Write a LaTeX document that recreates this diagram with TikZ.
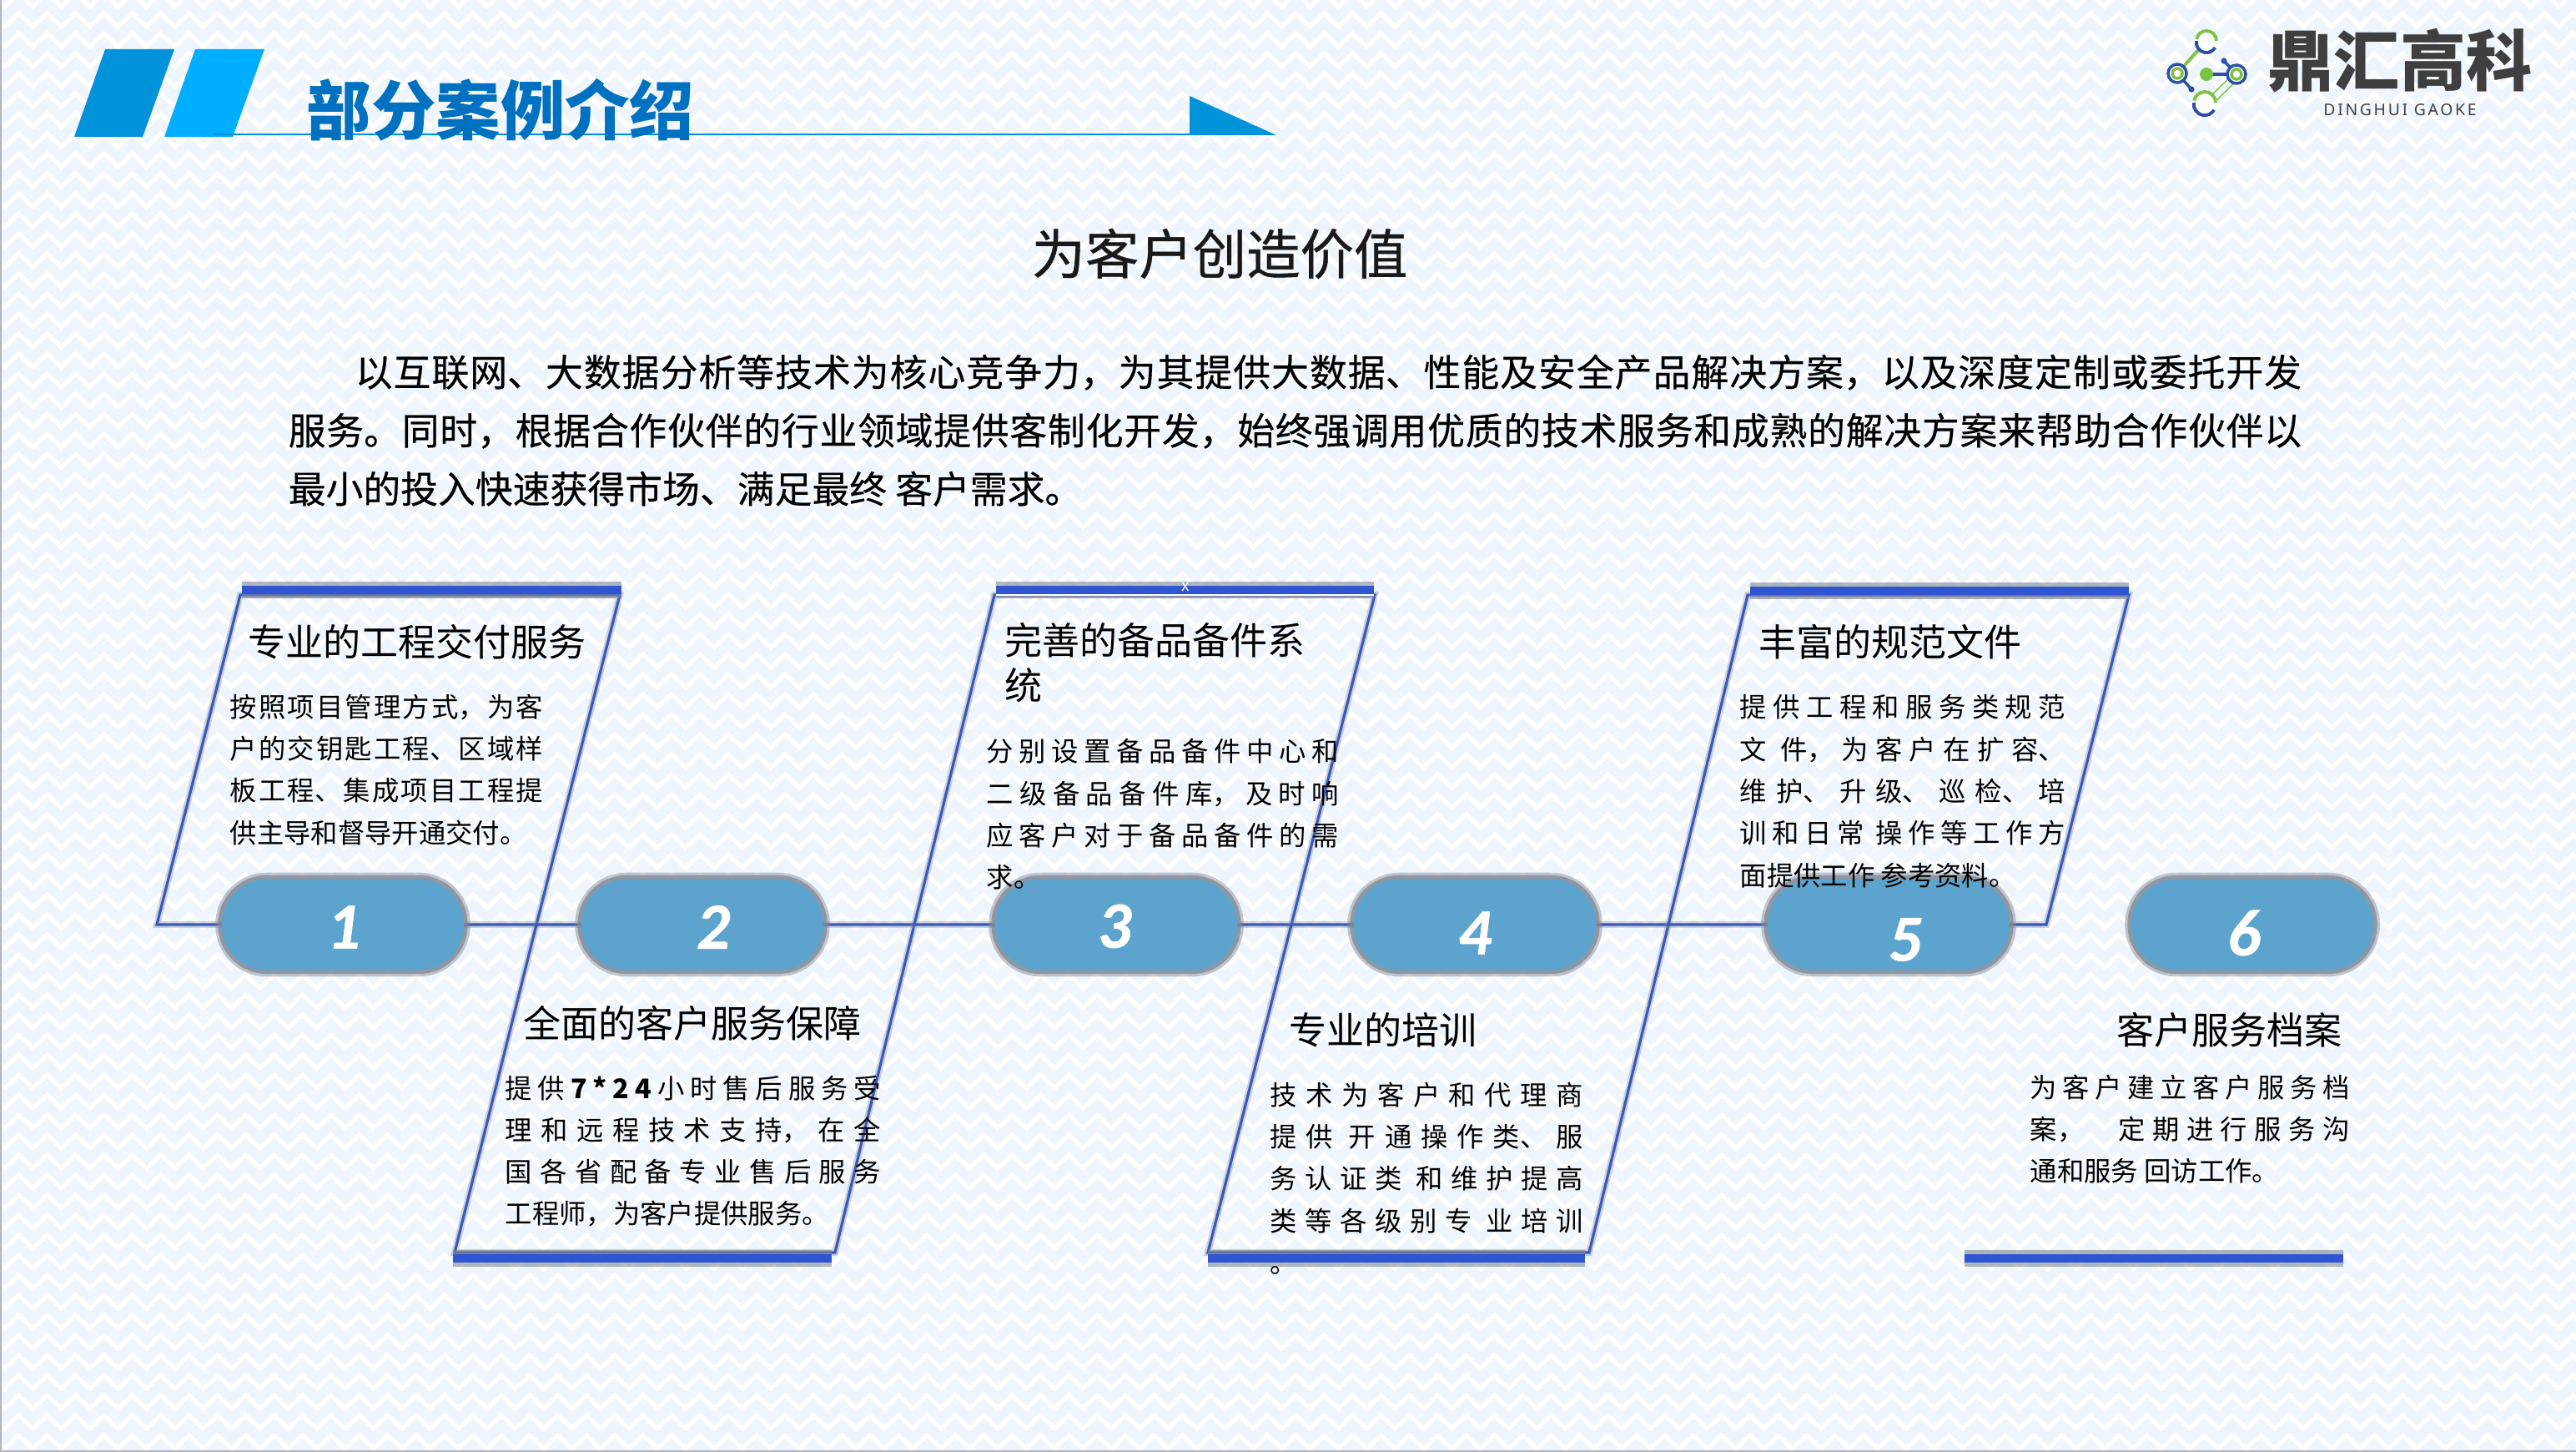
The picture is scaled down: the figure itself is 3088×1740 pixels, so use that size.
\documentclass[tikz,border=0pt]{standalone}
\usepackage{fontspec}
\setmainfont{Noto Sans CJK SC}
\newfontfamily\numfont[BoldItalicFeatures={FakeBold=0.7}]{Carlito}
\newfontfamily\logofont[LetterSpace=14]{Noto Sans}
\newfontfamily\introfont[FakeBold=0.35]{Noto Sans CJK SC}
\newfontfamily\slogfont[FakeBold=0.6]{Noto Sans CJK SC}
\usetikzlibrary{decorations.pathmorphing}
\definecolor{paper}{HTML}{EFF5FC}
\definecolor{ink}{HTML}{000000}
\definecolor{frameblue}{HTML}{3A58BE}
\definecolor{barblue}{HTML}{2F55D2}
\definecolor{glow}{HTML}{7F8794}
\definecolor{pillblue}{HTML}{5CA4CD}
\definecolor{headdk}{HTML}{0093D9}
\definecolor{headlt}{HTML}{00AEFF}
\definecolor{titleblue}{HTML}{0070C0}
\definecolor{logogray}{HTML}{3F3F3F}
\definecolor{logogreen}{HTML}{7DC242}
\definecolor{logoblue}{HTML}{2E4FA5}
\XeTeXlinebreaklocale "zh"
\XeTeXlinebreakskip=0pt plus 30pt
\tolerance=9999
\hbadness=10000
\tikzset{
  weave/.style={draw=white, line width=1.5pt, decorate,
                decoration={zigzag, segment length=0.34cm, amplitude=0.08cm}},
  frame/.style={draw=frameblue, line width=0.9pt, line join=miter,
                preaction={draw=glow, line width=2.2pt, opacity=0.35}},
  bar/.style={draw=barblue, line width=2.9pt,
              preaction={draw=glow, line width=5.6pt, opacity=0.6}},
  pill/.style={rectangle, rounded corners=0.54cm, fill=pillblue, minimum width=2.9cm, minimum height=1.09cm,
               inner sep=0pt, preaction={draw=glow, line width=4.4pt, opacity=0.45},
               preaction={draw=glow, line width=2.6pt, opacity=0.75}},
  num/.style={font=\numfont\fontsize{22.5}{22}\selectfont\bfseries\itshape, text=white, inner sep=0pt},
  head/.style={font=\fontsize{12.8}{15.2}\selectfont, text=ink, anchor=north west, inner sep=0pt, align=left},
  body/.style={font=\fontsize{9.2}{14.3}\selectfont, text=ink, anchor=north west, inner sep=0pt, align=justify},
  intro/.style={font=\introfont\fontsize{12.75}{19.9}\selectfont, text=ink, anchor=north west, inner sep=0pt, align=justify},
  logoring/.style={line width=1.1pt},
}
\newcommand{\jg}{\hskip 0pt plus 30pt\relax}

\begin{document}
\begin{tikzpicture}[x=0.01cm, y=-0.01cm]
  \useasboundingbox (0,0) rectangle (3088,1740);
  % background
  \fill[paper] (0,0) rectangle (3088,1740);
  \begin{scope}
    \clip (0,0) rectangle (3088,1740);
    \foreach \row in {0,1,...,73}
      \draw[weave] (-20,{\row*24}) -- (3110,{\row*24});
  \end{scope}
  \draw[draw=glow!60, line width=0.5pt] (1,0) -- (1,1739) -- (3088,1739);

  % header
  \fill[headdk] (126,59) -- (209,59) -- (171,164) -- (89,164) -- cycle;
  \fill[headlt] (234,59) -- (317,59) -- (279,164) -- (197,164) -- cycle;
  \coordinate (rulel) at (257,161);
  \coordinate (ruler) at (1526,161);
  \draw[headdk, line width=0.7pt] (rulel) -- (ruler);
  \fill[headdk] (1426,115) -- (1530,162) -- (1426,162) -- cycle;
  \node[font=\fontsize{22}{22}\selectfont\bfseries, text=titleblue, inner sep=0pt] (title) at (600,132) {部分案例介绍};

  % logo
  \draw[logogreen, line width=1.1pt] (2645,49) -- (2610,88);
  \draw[logoblue, line width=1pt] (2610,88) -- (2627,107);
  \draw[logoblue, line width=1pt] (2681,89) -- (2666,73);
  \draw[logoblue, line width=1.2pt] (2645,89) -- (2681,89);
  \draw[logogreen, line width=0.4pt] (2681,85) -- (2648,117) (2685,93) -- (2652,125);
  \fill[white] (2645,49) circle (12) (2610,88) circle (12) (2681,89) circle (12) (2643,123) circle (13);
  \foreach \cx/\cy/\rr in {2645/49/12, 2643/123/13} {
    \draw[logogreen, logoring] (\cx+\rr,\cy) arc[start angle=0, end angle=-170, radius=\rr];
    \draw[logoblue, logoring] (\cx-\rr,\cy) arc[start angle=-170, end angle=-330, radius=\rr];
  }
  \foreach \cx/\cy in {2610/88, 2681/89} {
    \draw[logoblue, line width=1pt] (\cx,\cy) circle (11);
    \draw[logogreen, line width=1pt] (\cx,\cy) circle (6);
  }
  \fill[logogreen] (2645,89) circle (8);
  \fill[logoblue] (2666,73) circle (3.6) (2627,107) circle (3.6);
  \node[font=\fontsize{22.5}{23}\selectfont\bfseries, text=logogray, inner sep=0pt] (brand) at (2877,73) {鼎汇高科};
  \node[font=\logofont\fontsize{5.5}{6}\selectfont, text=logogray, inner sep=0pt] (branden) at (2877,132) {DINGHUI GAOKE};

  % intro
  \node[font=\slogfont\fontsize{18.3}{20}\selectfont, text=ink!90, inner sep=0pt] (slogan) at (1462,304) {为客户创造价值};
  \node[intro, text width=24.12cm] (para) at (345,424)
    {\hspace*{0.8cm}以互联网、大数据分析等技术为核心竞争力，为其提供大数据、性能及安全产品解决方案，以及深度定制或委托开发\linebreak
     服务。同时，根据合作伙伴的行业领域提供客制化开发，始终强调用优质的技术服务和成熟的解决方案来帮助合作伙伴以\linebreak
     最小的投入快速获得市场、满足最终 客户需求。};

  % spine and boxes
  \coordinate (j0) at (188,1108);
  \coordinate (j1) at (643,1108);
  \coordinate (j2) at (1096,1108);
  \coordinate (j3) at (1548,1108);
  \coordinate (j4) at (2000,1108);
  \coordinate (j5) at (2453,1108);
  \coordinate (t1) at (288,713);
  \coordinate (u1) at (743,713);
  \coordinate (t3) at (1192,713);
  \coordinate (u3) at (1648,713);
  \coordinate (t5) at (2095,713);
  \coordinate (u5) at (2552,713);
  \coordinate (d2) at (545,1501);
  \coordinate (e2) at (1001,1501);
  \coordinate (d4) at (1448,1501);
  \coordinate (e4) at (1905,1501);
  \draw[frame] (j0) -- (t1) -- (u1) -- (j1) -- cycle;
  \draw[frame] (j1) -- (j2) -- (e2) -- (d2) -- cycle;
  \draw[frame] (j2) -- (t3) -- (u3) -- (j3) -- cycle;
  \draw[frame] (j3) -- (j4) -- (e4) -- (d4) -- cycle;
  \draw[frame] (j4) -- (t5) -- (u5) -- (j5) -- cycle;

  % bars
  \foreach \xa/\xb/\yy in {290/745/707, 543/997/1508, 1194/1647/707, 1448/1900/1508, 2098/2552/708, 2355/2809/1508}
    \draw[bar] (\xa,\yy) -- (\xb,\yy);
  \draw[white, line width=0.5pt] (1194,713) -- (1647,713);
  \node[font=\fontsize{5.5}{6}\selectfont, text=white, inner sep=0pt] (mark) at (1421,703) {x};

  % pills
  \foreach \cx/\dx/\dy/\lab in {411/412/1111/1, 842/855/1111/2, 1338/1336/1110/3, 1768/1768/1118/4, 2264/2284/1126/5, 2700/2690/1118/6} {
    \node[pill] (pill\lab) at (\cx,1108) {};
    \node[num] (num\lab) at (\dx,\dy) {\lab};
  }

  % texts
  \node[head] (h1) at (297,748) {专业的工程交付服务};
  \node[body, text width=3.75cm] (b1) at (275,831)
    {按照项目管理方式，为客\linebreak 户的交钥匙工程、区域样\linebreak 板工程、集成项目工程提\linebreak 供主导和督导开通交付。};
  \node[head] (h2) at (627,1204) {全面的客户服务保障};
  \node[body, text width=4.5cm] (b2) at (605,1288)
    {提供\jg{\bfseries 7\jg*\jg2\jg4}\jg 小时售后服务受\linebreak 理和远程技术支持，\jg 在全\linebreak 国各省配备专业售后服务\linebreak 工程师，为客户提供服务。};
  \node[head, text width=3.6cm] (h3) at (1204,746) {完善的备品备件系\\统};
  \node[body, text width=4.22cm] (b3) at (1182,885)
    {分别设置备品备件中心和\linebreak 二级备品备件库，\jg 及时响\linebreak 应客户对于备品备件的需\linebreak 求。};
  \node[head] (h4) at (1545,1213) {专业的培训};
  \node[body, text width=3.75cm] (b4) at (1522,1296)
    {技术为客户和代理商\linebreak 提供 \jg 开通操作类、服\linebreak 务认证类 \jg 和维护提高\linebreak 类等各级别专 \jg 业培训\linebreak 。};
  \node[head] (h5) at (2108,748) {丰富的规范文件};
  \node[body, text width=3.9cm] (b5) at (2085,832)
    {提供工程和服务类规范\linebreak 文 \jg 件，\jg 为客户在扩容、\linebreak 维护、\jg 升级、巡检、培\linebreak 训和日常 \jg 操作等工作方\linebreak 面提供工作 参考资料。};
  \node[head] (h6) at (2537,1213) {客户服务档案};
  \node[body, text width=3.83cm] (b6) at (2433,1287)
    {为客户建立客户服务档\linebreak 案，\quad \jg 定期进行服务沟\linebreak 通和服务 回访工作。};
\end{tikzpicture}
\end{document}
